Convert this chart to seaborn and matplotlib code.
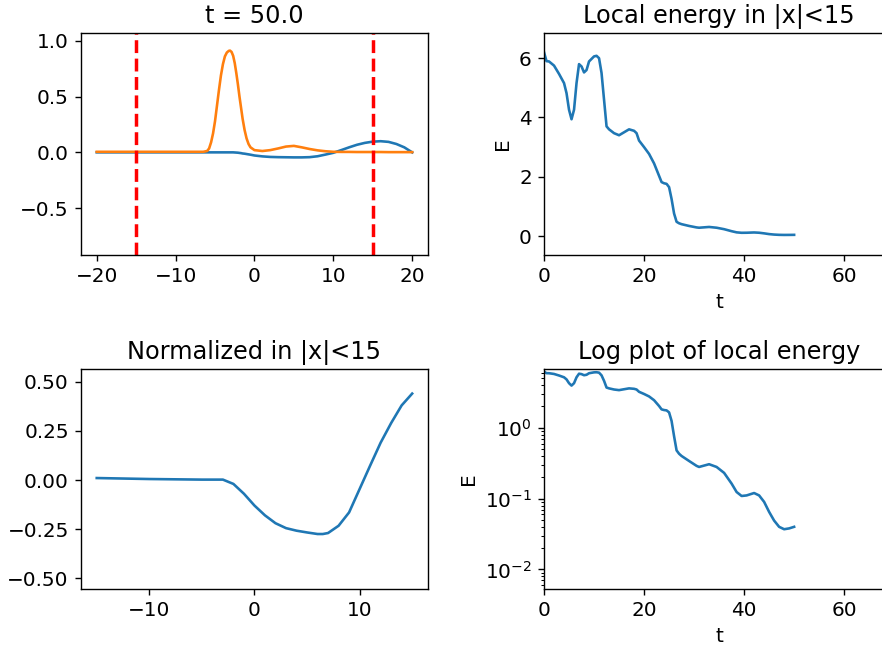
import numpy as np
import seaborn as sns
import matplotlib.pyplot as plt

# snapshot at t = 50
x_snap = [-20, -15, -10, -6.5, -6, -5.75, -5.5, -5.25, -5, -4.75, -4.5, -4.25, -4, -3.75,
          -3.5, -3.25, -3.1, -2.9, -2.7, -2.5, -2.3, -2.1, -1.9, -1.7, -1.5, -1.25, -1,
          -0.75, -0.5, 0, 1, 2, 3, 4, 5, 6, 7, 8, 9, 10, 11, 12, 13, 14, 15,
          16, 17, 18, 19, 20]
u_real = [0.0, 0.0, 0.0, 0.0, 0.0, 0.0, 0.0, 0.0, 0.0, 0.0, 0.0, 0.0, 0.0, 0.0,
          0.0, 0.0, 0.0, 0.0, 0.0, -0.001, -0.002, -0.003, -0.005, -0.007,
          -0.01, -0.012, -0.015, -0.018, -0.021, -0.028, -0.036, -0.041, -0.043, -0.044,
          -0.045, -0.045, -0.043, -0.035, -0.02, -0.004, 0.02, 0.045, 0.068, 0.085, 0.096,
          0.1, 0.094, 0.075, 0.045, 0.0]
u_abs = [0.005, 0.005, 0.005, 0.005, 0.012, 0.035, 0.09, 0.17, 0.28, 0.42, 0.56, 0.69, 0.79,
         0.86, 0.895, 0.91, 0.912, 0.9, 0.865, 0.8, 0.71, 0.61, 0.5, 0.4, 0.3, 0.2, 0.125,
         0.075, 0.045, 0.02, 0.012, 0.02, 0.035, 0.052, 0.058, 0.045, 0.03, 0.018, 0.01,
         0.005, 0.004, 0.004, 0.003, 0.003, 0.003, 0.003, 0.002, 0.002, 0.002, 0.002]

# normalized profile in |x|<15
x_norm = [-15, -10, -5, -3, -2, -1, 0, 1, 2, 3, 4, 5, 6, 6.5, 7, 8, 9, 10, 11, 12, 13, 14, 15]
u_norm = [0.01, 0.005, 0.002, 0.002, -0.02, -0.07, -0.13, -0.18, -0.22, -0.245, -0.258,
          -0.267, -0.275, -0.275, -0.27, -0.233, -0.165, -0.046, 0.073, 0.19, 0.29, 0.38, 0.44]

# local energy vs time
t_vals = [0, 0.5, 1, 2, 3, 4, 4.5, 5, 5.5, 6, 6.5, 7, 7.5, 8, 8.5, 9, 10, 10.5, 11, 11.5,
          12, 12.5, 13, 14, 15, 16, 17, 18, 18.5, 19, 20, 21, 22, 23, 23.5, 24, 24.5, 25,
          25.5, 26, 26.5, 27, 27.5, 29, 30.5, 31, 33, 34.5, 36, 37.5, 38.5, 39.5, 40.5, 42,
          43, 44, 45, 46, 47, 48, 49, 50]
E_vals = [6.2, 5.9, 5.89, 5.75, 5.47, 5.16, 4.82, 4.26, 3.94, 4.26, 5.16, 5.8, 5.72, 5.52,
          5.6, 5.89, 6.06, 6.08, 6.0, 5.5, 4.6, 3.7, 3.6, 3.47, 3.4, 3.5, 3.6, 3.55, 3.47,
          3.22, 3.0, 2.77, 2.45, 2.03, 1.82, 1.78, 1.76, 1.65, 1.25, 0.76, 0.48, 0.43, 0.4,
          0.34, 0.29, 0.28, 0.306, 0.28, 0.231, 0.163, 0.124, 0.109, 0.111, 0.12, 0.111,
          0.09, 0.065, 0.049, 0.04, 0.037, 0.038, 0.04]

plt.rcParams["font.size"] = 11.5

fig = plt.figure(figsize=(7.056, 5.216), dpi=125)
ax1 = fig.add_axes([0.0918, 0.6089, 0.3934, 0.3405])
ax2 = fig.add_axes([0.6168, 0.6089, 0.397, 0.3405])
ax3 = fig.add_axes([0.0918, 0.0966, 0.3934, 0.3374])
ax4 = fig.add_axes([0.6168, 0.0966, 0.397, 0.3374])

sns.lineplot(x=x_snap, y=u_real, ax=ax1, color="C0")
sns.lineplot(x=x_snap, y=u_abs, ax=ax1, color="C1")
ax1.axvline(-15, color="red", linestyle="--", lw=2)
ax1.axvline(15, color="red", linestyle="--", lw=2)
ax1.set_ylim(-0.92, 1.07)
ax1.set_title("t = 50.0")

sns.lineplot(x=t_vals, y=E_vals, ax=ax2, color="C0")
ax2.set_xlim(0, 70)
ax2.set_ylim(-0.64, 6.85)
ax2.set_xlabel("t")
ax2.set_ylabel("E")
ax2.set_title("Local energy in |x|<15")

sns.lineplot(x=x_norm, y=u_norm, ax=ax3, color="C0")
ax3.set_ylim(-0.555, 0.565)
ax3.set_yticks([-0.5, -0.25, 0.0, 0.25, 0.5])
ax3.set_title("Normalized in |x|<15")

sns.lineplot(x=t_vals, y=E_vals, ax=ax4, color="C0")
ax4.set_yscale("log")
ax4.set_xlim(0, 70)
ax4.set_ylim(0.0053, 6.75)
ax4.set_xlabel("t")
ax4.set_ylabel("E")
ax4.set_title("Log plot of local energy")

fig.savefig("out.png", dpi=125)
